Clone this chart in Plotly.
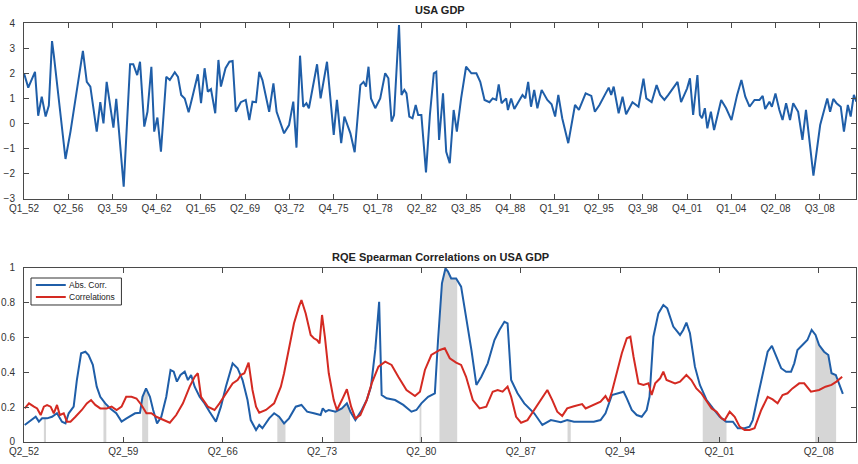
import numpy as np
import plotly.graph_objects as go

# ---------------- data ----------------
# Top panel: USA GDP growth, x = quarter index from Q1 1952
gdp_q = [0.0, 1.2, 3.1, 4.0, 5.0, 6.1, 7.0, 7.9, 8.4, 11.7, 13.1, 16.6, 17.7, 18.7, 20.5, 21.5, 22.4,
         23.3, 25.2, 26.0, 28.1, 29.9, 30.8, 31.9, 32.7, 33.9, 34.8, 35.9, 36.7, 37.6, 38.6, 40.1, 41.1,
         42.5, 43.4, 44.3, 45.3, 46.4, 47.6, 49.0, 49.9, 50.9, 51.8, 52.7, 53.9, 54.8, 55.5, 56.8, 57.9,
         58.8, 59.7, 61.1, 62.5, 63.5, 64.4, 65.4, 66.3, 67.2, 69.1, 70.3, 71.2, 73.3, 74.7, 75.9, 76.8,
         77.8, 78.7, 79.6, 80.3, 82.6, 83.6, 85.4, 87.3, 88.2, 89.4, 90.3, 92.0, 93.2, 94.8, 95.7, 96.4,
         97.1, 97.8, 99.0, 100.4, 101.8, 102.7, 103.6, 104.3, 105.7, 106.4, 107.2, 107.8, 108.6, 109.5,
         110.4, 111.1, 112.0, 113.3, 114.4, 115.5, 116.2, 117.0, 118.1, 119.0, 120.0, 121.1, 122.0, 123.2,
         124.6, 126.1, 127.5, 128.6, 129.8, 131.2, 132.1, 133.1, 133.8, 134.6, 135.9, 136.4, 137.3, 138.2,
         139.6, 140.5, 141.3, 142.1, 142.9, 143.8, 144.7, 145.9, 147.5, 148.7, 149.7, 150.6, 151.7, 153.4,
         155.3, 156.4, 158.3, 159.9, 160.9, 162.2, 164.8, 165.5, 166.2, 167.6, 168.7, 169.7, 171.5, 173.2,
         174.6, 175.4, 176.9, 178.3, 179.3, 180.5, 181.6, 184.2, 185.2, 186.9, 187.7, 188.6, 189.8, 190.5,
         191.1, 191.9, 192.6, 193.6, 194.5, 196.5, 197.9, 199.4, 201.0, 202.2, 203.3, 204.5, 205.9, 207.3,
         208.2, 208.9, 210.1, 210.8, 211.8, 212.9, 213.8, 214.8, 215.9, 216.8, 218.2, 219.4, 220.4, 222.5,
         224.4, 226.4, 227.2, 228.1, 229.0, 230.2, 231.1, 232.2, 233.0, 233.9, 234.6]
gdp_v = [2.0, 1.43, 2.06, 0.31, 1.07, 0.28, 0.72, 3.28, 2.73, -1.41, -0.32, 2.89, 1.66, 1.47, -0.32, 0.85, 0.01,
         1.66, -0.16, 0.98, -2.51, 2.36, 2.36, 1.93, 2.46, -0.12, 0.47, 2.26, -0.32, 0.24, -1.12, 1.86, 1.73,
         2.04, 1.86, 1.14, 1.0, 0.45, 1.14, 1.96, 0.81, 2.2, 1.27, 1.37, 0.41, 2.53, 1.47, 2.2, 2.46,
         2.49, 0.47, 0.85, 0.94, 0.14, 0.87, 0.85, 2.06, 1.73, 0.47, 1.6, 0.47, -0.39, -0.06, 0.87, -0.96,
         2.7, 0.67, 0.81, 0.61, 2.36, 1.0, 2.46, -0.45, 0.94, -0.78, 0.28, -0.39, -1.14, 1.53, 1.66, 1.47,
         2.26, 1.0, 0.61, 1.0, 2.0, 1.8, 0.08, 0.34, 3.92, 1.14, 1.34, 1.2, 0.28, 0.21,
         0.74, 0.34, 0.34, -1.94, 0.34, 2.0, 2.06, -0.65, 1.2, -1.12, -1.58, 0.54, -0.32, 1.0,
         2.26, 2.0, 2.0, 1.66, 0.94, 0.85, 1.0, 0.94, 1.56, 0.81, 1.0, 0.54, 1.0, 0.58,
         0.9, 1.14, 1.0, 1.66, 0.67, 1.34, 0.61, 1.34, 0.94, 0.77, 0.28, 1.14, 0.21, -0.78,
         0.74, 0.54, 1.2, 1.1, 0.47, 0.74, 1.43, 1.14, 1.47, 0.41, 1.07, 0.37, 0.85, 0.67,
         1.79, 1.0, 0.85, 1.53, 1.14, 0.94, 1.14, 1.66, 0.85, 1.4, 1.8, 0.34, 1.93, 0.34,
         0.21, 0.61, -0.19, 0.47, -0.26, 0.94, 0.61, 0.14, 1.14, 1.73, 1.07, 0.67, 0.94, 0.94,
         1.1, 0.58, 0.87, 0.67, 1.2, 0.54, 0.14, 0.81, 0.14, 0.81, 0.47, -0.65, 0.54, -2.07,
         -0.06, 1.0, 0.47, 0.98, 0.81, 0.67, -0.32, 0.74, 0.28, 1.14, 0.87]

top_tick_labels = ["Q1_52", "Q2_56", "Q3_59", "Q4_62", "Q1_65", "Q2_69", "Q3_72", "Q4_75", "Q1_78",
                   "Q2_82", "Q3_85", "Q4_88", "Q1_91", "Q2_95", "Q3_98", "Q4_01", "Q1_04", "Q2_08", "Q3_08"]
top_tick_step = 12.46

# Bottom panel: RQE Spearman correlations, x = quarter index from Q2 1952
abs_q = [0.2, 1.9, 3.3, 4.2, 5.1, 6.5, 7.9, 9.3, 10.7, 11.7, 12.6, 14.0, 14.9, 16.1, 17.3, 18.2, 19.4,
         20.5, 21.5, 22.9, 24.3, 26.0, 27.5, 28.9, 31.3, 32.7, 33.4, 34.4, 35.5, 36.4, 37.5, 38.7, 40.1,
         41.3, 42.2, 43.1, 44.1, 45.3, 46.2, 47.1, 48.1, 49.5, 50.9, 52.3, 54.1, 55.5, 56.9, 58.8, 60.2,
         61.6, 63.0, 63.9, 65.4, 66.3, 67.2, 69.1, 70.5, 71.9, 73.3, 74.7, 76.6, 78.2, 79.8, 81.7, 83.6,
         84.2, 85.0, 85.9, 87.8, 89.6, 91.0, 92.0, 93.4, 95.2, 96.6, 97.8, 99.0, 100.1, 100.8, 102.2,
         104.6, 106.9, 109.2, 110.6, 112.0, 113.9, 115.8, 116.7, 117.8, 118.8, 119.5, 120.4, 121.8,
         123.2, 124.6, 126.1, 127.5, 128.9, 130.7, 132.6, 134.0, 135.4, 136.3, 137.3, 139.1, 141.0,
         143.8, 146.1, 148.5, 151.3, 153.1, 155.0, 157.8, 160.6, 162.5, 163.9, 165.7, 167.6, 169.0,
         169.9, 171.3, 172.7, 174.1, 175.5, 176.3, 177.4, 178.8, 180.2, 181.3, 183.0, 184.9, 185.8,
         186.7, 187.7, 189.1, 190.5, 192.4, 194.2, 196.1, 197.9, 199.8, 201.2, 203.1, 204.5, 205.4,
         206.8, 208.2, 209.6, 210.8, 212.0, 213.4, 214.8, 216.2, 217.1, 218.0, 219.4, 220.8, 222.0,
         223.1, 224.1, 225.5, 226.7, 227.6, 228.8, 229.7, 230.8]
abs_v = [0.098, 0.126, 0.145, 0.117, 0.136, 0.136, 0.145, 0.165, 0.117, 0.107, 0.165, 0.203, 0.356, 0.51,
         0.519, 0.5, 0.443, 0.318, 0.26, 0.222, 0.193, 0.165, 0.117, 0.136, 0.165, 0.168, 0.26, 0.308,
         0.26, 0.184, 0.107, 0.145, 0.26, 0.414, 0.404, 0.347, 0.385, 0.404, 0.356, 0.385, 0.318, 0.26,
         0.222, 0.174, 0.117, 0.203, 0.318, 0.452, 0.424, 0.356, 0.241, 0.126, 0.069, 0.098, 0.079,
         0.136, 0.165, 0.145, 0.107, 0.136, 0.203, 0.213, 0.174, 0.165, 0.155, 0.193, 0.174, 0.184,
         0.174, 0.193, 0.222, 0.174, 0.126, 0.184, 0.241, 0.318, 0.529, 0.806, 0.27, 0.251, 0.241,
         0.213, 0.174, 0.184, 0.222, 0.26, 0.28, 0.586, 0.912, 0.998, 0.979, 0.94, 0.94, 0.893, 0.72,
         0.529, 0.328, 0.375, 0.452, 0.586, 0.644, 0.691, 0.682, 0.356, 0.28, 0.222, 0.165, 0.098,
         0.126, 0.114, 0.126, 0.117, 0.117, 0.117, 0.126, 0.165, 0.27, 0.28, 0.289, 0.251, 0.184,
         0.155, 0.145, 0.184, 0.26, 0.605, 0.739, 0.787, 0.768, 0.663, 0.615, 0.644, 0.686, 0.625,
         0.433, 0.328, 0.241, 0.193, 0.145, 0.117, 0.117, 0.079, 0.079, 0.088, 0.126, 0.26, 0.395,
         0.519, 0.552, 0.49, 0.424, 0.404, 0.404, 0.452, 0.529, 0.557, 0.586, 0.644, 0.615, 0.557,
         0.519, 0.5, 0.395, 0.385, 0.337, 0.276]

corr_q = [0.2, 1.4, 2.8, 3.7, 4.7, 5.6, 6.5, 7.5, 8.4, 9.3, 10.1, 11.2, 12.1, 13.1, 14.5, 16.3, 17.7,
          18.9, 20.1, 21.5, 23.3, 24.7, 26.1, 27.5, 28.8, 30.3, 31.7, 33.1, 34.5, 35.9, 37.3, 39.2, 41.1,
          42.9, 44.8, 46.7, 48.1, 49.0, 49.9, 51.8, 53.7, 55.1, 56.9, 58.8, 60.2, 61.1, 62.1, 63.3, 64.4,
          65.4, 66.3, 68.2, 70.5, 72.4, 73.3, 74.7, 76.1, 77.5, 78.2, 79.4, 80.8, 81.7, 82.6, 83.3, 84.0,
          84.8, 85.9, 87.3, 88.2, 89.6, 91.0, 92.2, 93.4, 94.8, 96.6, 98.0, 99.9, 101.8, 103.6, 105.5,
          107.8, 110.2, 111.6, 113.0, 114.8, 117.2, 118.6, 120.0, 121.8, 123.2, 124.6, 126.5, 128.4,
          130.3, 132.1, 133.5, 134.9, 136.3, 137.3, 138.7, 140.1, 141.9, 143.8, 146.1, 147.5, 148.9,
          150.3, 151.7, 153.1, 155.0, 157.3, 158.3, 160.6, 162.5, 163.9, 164.8, 165.7, 167.1, 168.5,
          169.9, 170.9, 171.8, 173.2, 174.6, 176.0, 176.9, 177.9, 179.3, 180.2, 181.1, 183.5, 184.9,
          186.7, 188.1, 189.5, 190.9, 192.4, 193.8, 195.2, 196.6, 197.5, 198.9, 200.3, 201.7, 203.1,
          204.5, 205.9, 207.8, 209.6, 211.0, 212.4, 213.8, 215.2, 216.6, 218.5, 219.9, 221.8, 224.1,
          225.9, 227.6, 229.0, 230.6]
corr_v = [0.193, 0.222, 0.203, 0.193, 0.155, 0.203, 0.212, 0.203, 0.165, 0.213, 0.155, 0.165, 0.117,
          0.117, 0.145, 0.184, 0.222, 0.241, 0.213, 0.193, 0.193, 0.203, 0.184, 0.203, 0.26, 0.26, 0.25,
          0.213, 0.165, 0.165, 0.145, 0.126, 0.111, 0.155, 0.222, 0.318, 0.375, 0.395, 0.26, 0.203,
          0.184, 0.222, 0.28, 0.337, 0.356, 0.385, 0.395, 0.456, 0.299, 0.203, 0.168, 0.184, 0.222,
          0.318, 0.395, 0.548, 0.682, 0.778, 0.816, 0.739, 0.615, 0.596, 0.586, 0.567, 0.73, 0.605,
          0.395, 0.241, 0.184, 0.241, 0.303, 0.203, 0.136, 0.155, 0.241, 0.337, 0.433, 0.462, 0.443,
          0.375, 0.299, 0.264, 0.289, 0.414, 0.5, 0.529, 0.539, 0.481, 0.456, 0.443, 0.375, 0.241,
          0.193, 0.203, 0.289, 0.299, 0.289, 0.318, 0.26, 0.145, 0.111, 0.126, 0.184, 0.26, 0.299,
          0.241, 0.174, 0.15, 0.193, 0.205, 0.218, 0.193, 0.213, 0.232, 0.264, 0.232, 0.289, 0.395,
          0.51, 0.596, 0.605, 0.49, 0.337, 0.328, 0.337, 0.27, 0.337, 0.366, 0.404, 0.356, 0.337,
          0.347, 0.385, 0.356, 0.308, 0.28, 0.232, 0.193, 0.174, 0.136, 0.126, 0.174, 0.145, 0.088,
          0.069, 0.069, 0.079, 0.184, 0.26, 0.245, 0.222, 0.27, 0.28, 0.308, 0.337, 0.337, 0.289,
          0.299, 0.318, 0.328, 0.347, 0.375]

# Shaded recession periods (quarter index, bottom panel)
rec_start = [5.6, 22.4, 33.3, 71.4, 87.4, 111.5, 117.1, 153.2, 191.3, 223.0]
rec_end = [6.2, 23.2, 35.0, 73.7, 91.9, 112.0, 122.1, 154.1, 198.0, 228.9]

bottom_tick_labels = ["Q2_52", "Q2_59", "Q2_66", "Q2_73", "Q2_80", "Q2_87", "Q2_94", "Q2_01", "Q2_08"]
bottom_tick_step = 28

series_names = ["Abs. Corr.", "Correlations"]

# ---------------- figure ----------------
BLUE = "#1f5ea8"
RED = "#d42a22"
AX = "#4a4a4a"
FONT = "Liberation Sans, Arial, sans-serif"
XMAX = 234.5

fig = go.Figure()

fig.add_trace(go.Scatter(x=gdp_q, y=gdp_v, mode="lines", line=dict(color=BLUE, width=2),
                         showlegend=False, xaxis="x", yaxis="y"))

bq = np.array(abs_q)
bv = np.array(abs_v)
for a, b in zip(rec_start, rec_end):
    xs = [a] + [q for q in abs_q if a < q < b] + [b]
    ys = np.interp(xs, bq, bv)
    fig.add_trace(go.Scatter(x=xs, y=ys, mode="lines", fill="tozeroy", fillcolor="#d6d6d6",
                             line=dict(width=0, color="#d6d6d6"), showlegend=False,
                             hoverinfo="skip", xaxis="x2", yaxis="y2"))

fig.add_trace(go.Scatter(x=abs_q, y=abs_v, mode="lines", name=series_names[0], showlegend=False,
                         line=dict(color=BLUE, width=2), xaxis="x2", yaxis="y2"))
fig.add_trace(go.Scatter(x=corr_q, y=corr_v, mode="lines", name=series_names[1], showlegend=False,
                         line=dict(color=RED, width=2), xaxis="x2", yaxis="y2"))

axis_common = dict(showline=True, linecolor=AX, linewidth=1, mirror="ticks", ticks="inside",
                   ticklen=5, tickcolor=AX, showgrid=False, zeroline=False,
                   tickfont=dict(family=FONT, size=10, color="#333333"))

# compact MATLAB-style legend box in the lower panel
legend_shapes = [
    dict(type="rect", xref="paper", yref="paper", x0=0.0084, x1=0.1171, y0=0.327, y1=0.3914,
         line=dict(color="#333333", width=1), fillcolor="white", layer="above"),
    dict(type="line", xref="paper", yref="paper", x0=0.0143, x1=0.0502, y0=0.3747, y1=0.3747,
         line=dict(color=BLUE, width=2), layer="above"),
    dict(type="line", xref="paper", yref="paper", x0=0.0143, x1=0.0502, y0=0.3461, y1=0.3461,
         line=dict(color=RED, width=2), layer="above"),
]
legend_texts = [
    dict(text=series_names[0], xref="paper", yref="paper", x=0.0514, y=0.3747, xanchor="left",
         yanchor="middle", showarrow=False, font=dict(family=FONT, size=8.5, color="#222222")),
    dict(text=series_names[1], xref="paper", yref="paper", x=0.0514, y=0.3461, xanchor="left",
         yanchor="middle", showarrow=False, font=dict(family=FONT, size=8.5, color="#222222")),
]

fig.update_layout(
    width=858, height=464,
    margin=dict(l=20, r=1, t=23, b=22),
    paper_bgcolor="white", plot_bgcolor="white",
    font=dict(family=FONT, size=10, color="#333333"),
    showlegend=False,
    xaxis=dict(domain=[0, 1], anchor="y", range=[0, XMAX],
               tickvals=[i * top_tick_step for i in range(len(top_tick_labels))],
               ticktext=top_tick_labels, **axis_common),
    yaxis=dict(domain=[0.580, 1.0], anchor="x", range=[-3, 4], dtick=1,
               ticklabelstandoff=6, **axis_common),
    xaxis2=dict(domain=[0, 1], anchor="y2", range=[0, XMAX],
                tickvals=[i * bottom_tick_step for i in range(len(bottom_tick_labels))],
                ticktext=bottom_tick_labels, **axis_common),
    yaxis2=dict(domain=[0, 0.4153], anchor="x2", range=[0, 1],
                tickvals=[0, 0.2, 0.4, 0.6, 0.8, 1], ticktext=["0", "0.2", "0.4", "0.6", "0.8", "1"],
                ticklabelstandoff=6, **axis_common),
    shapes=legend_shapes,
    annotations=[
        dict(text="<b>USA GDP</b>", xref="paper", yref="paper", x=0.5, y=1.031,
             xanchor="center", yanchor="middle", showarrow=False,
             font=dict(family=FONT, size=11, color="#222222")),
        dict(text="<b>RQE Spearman Correlations on USA GDP</b>", xref="paper", yref="paper",
             x=0.5, y=0.442, xanchor="center", yanchor="middle", showarrow=False,
             font=dict(family=FONT, size=11, color="#222222")),
    ] + legend_texts,
)

fig.write_html("out.html", config={"displayModeBar": False},
               post_script="document.body.style.margin='0';document.body.style.overflow='hidden';")
